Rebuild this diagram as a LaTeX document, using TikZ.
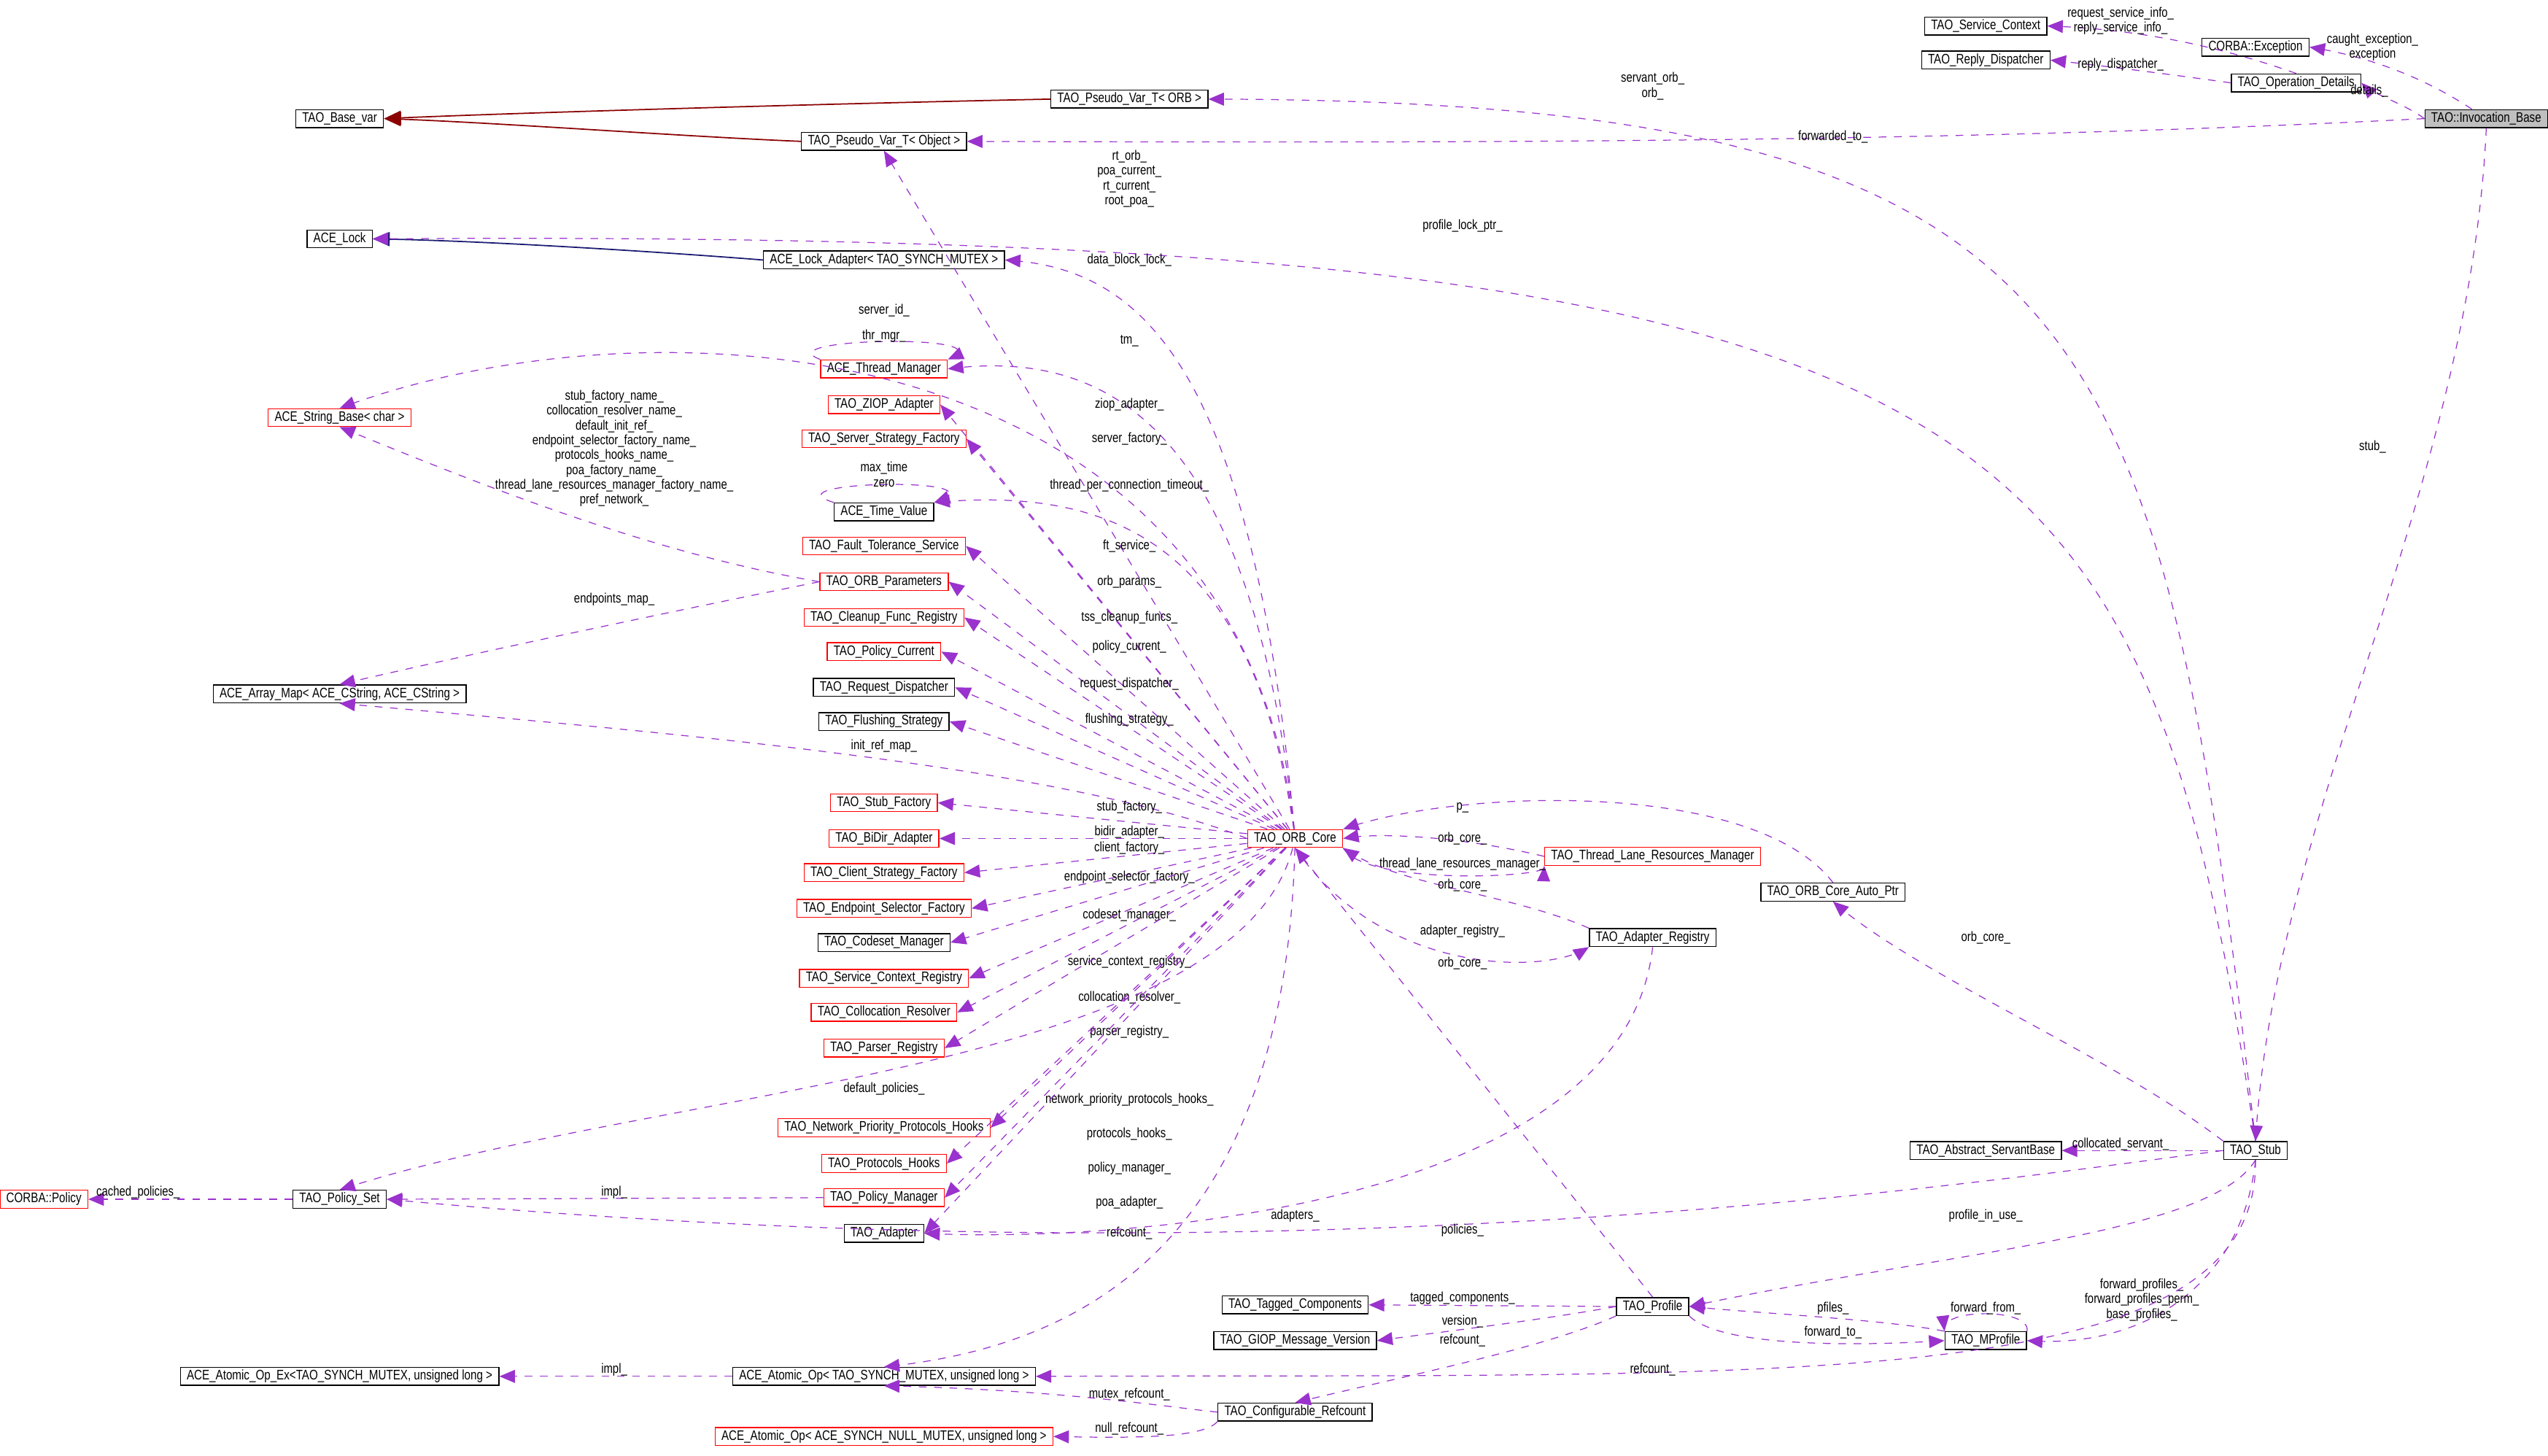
\documentclass[tikz,border=0pt]{standalone}
\usepackage{fontspec}
\setmainfont[FakeStretch=0.8]{Liberation Sans}
\usetikzlibrary{arrows}
\definecolor{memcol}{HTML}{9A32CD}
\definecolor{inhred}{HTML}{8B0000}
\definecolor{inhblue}{HTML}{191970}
\tikzset{
  cls/.style={draw=black, fill=white, line width=0.4pt, minimum height=0.245cm, inner xsep=2.5pt, inner ysep=0pt,
              font=\fontsize{5.4}{6}\selectfont},
  trunc/.style={cls, draw=red},
  self/.style={cls, fill=black!25},
  mem/.style={draw=memcol, dashed, line width=0.35pt, -triangle 45},
  pub/.style={draw=inhred, line width=0.5pt, -triangle 45},
  pubb/.style={draw=inhblue, line width=0.5pt, -triangle 45},
  lbl/.style={font=\fontsize{5.3}{5.8}\selectfont, align=center, inner sep=0pt}
}
\begin{document}
\begin{tikzpicture}[x=0.02228cm, y=-0.02228cm]
\useasboundingbox (0,0) rectangle (1568,896);

% classes, right top
\node[cls] (svcctx) at (1222,16) {TAO\_Service\_Context};
\node[cls] (replyd) at (1222,37) {TAO\_Reply\_Dispatcher};
\node[cls] (cexc) at (1388,29) {CORBA::Exception};
\node[cls] (opdet) at (1413,51) {TAO\_Operation\_Details};
\node[self] (invb) at (1530,73) {TAO::Invocation\_Base};
\node[cls] (pvorb) at (695,61) {TAO\_Pseudo\_Var\_T< ORB >};
\node[cls] (basevar) at (209,73) {TAO\_Base\_var};
\node[cls] (pvobj) at (544,87) {TAO\_Pseudo\_Var\_T< Object >};
\node[cls] (acelock) at (209,147) {ACE\_Lock};
\node[cls] (lockad) at (544,160) {ACE\_Lock\_Adapter< TAO\_SYNCH\_MUTEX >};

% left columns
\node[trunc] (strbase) at (209,257) {ACE\_String\_Base< char >};
\node[cls] (arrmap) at (209,427) {ACE\_Array\_Map< ACE\_CString, ACE\_CString >};
\node[trunc] (cpolicy) at (27,738) {CORBA::Policy};
\node[cls] (polset) at (209,738) {TAO\_Policy\_Set};
\node[cls] (atomex) at (209,847) {ACE\_Atomic\_Op\_Ex<TAO\_SYNCH\_MUTEX, unsigned long >};

\node[trunc] (thrmgr) at (544,227) {ACE\_Thread\_Manager};
\node[trunc] (ziop) at (544,249) {TAO\_ZIOP\_Adapter};
\node[trunc] (srvfac) at (544,270) {TAO\_Server\_Strategy\_Factory};
\node[cls] (timeval) at (544,315) {ACE\_Time\_Value};
\node[trunc] (ftsvc) at (544,336) {TAO\_Fault\_Tolerance\_Service};
\node[trunc] (orbpar) at (544,358) {TAO\_ORB\_Parameters};
\node[trunc] (cleanup) at (544,380) {TAO\_Cleanup\_Func\_Registry};
\node[trunc] (polcur) at (544,401) {TAO\_Policy\_Current};
\node[cls] (reqdisp) at (544,423) {TAO\_Request\_Dispatcher};
\node[cls] (flush) at (544,444) {TAO\_Flushing\_Strategy};
\node[trunc] (stubfac) at (544,494) {TAO\_Stub\_Factory};
\node[trunc] (bidir) at (544,516) {TAO\_BiDir\_Adapter};
\node[trunc] (clifac) at (544,537) {TAO\_Client\_Strategy\_Factory};
\node[trunc] (epsel) at (544,559) {TAO\_Endpoint\_Selector\_Factory};
\node[cls] (codeset) at (544,580) {TAO\_Codeset\_Manager};
\node[trunc] (screg) at (544,602) {TAO\_Service\_Context\_Registry};
\node[trunc] (colres) at (544,623) {TAO\_Collocation\_Resolver};
\node[trunc] (parser) at (544,645) {TAO\_Parser\_Registry};
\node[trunc] (netprio) at (544,694) {TAO\_Network\_Priority\_Protocols\_Hooks};
\node[trunc] (prothk) at (544,716) {TAO\_Protocols\_Hooks};
\node[trunc] (polmgr) at (544,737) {TAO\_Policy\_Manager};
\node[cls] (adapter) at (544,759) {TAO\_Adapter};
\node[cls] (atom) at (544,847) {ACE\_Atomic\_Op< TAO\_SYNCH\_MUTEX, unsigned long >};
\node[trunc] (atomnull) at (544,884) {ACE\_Atomic\_Op< ACE\_SYNCH\_NULL\_MUTEX, unsigned long >};

% middle and right
\node[trunc] (core) at (797,516) {TAO\_ORB\_Core};
\node[trunc] (tlrm) at (1017,527) {TAO\_Thread\_Lane\_Resources\_Manager};
\node[cls] (autoptr) at (1128,549) {TAO\_ORB\_Core\_Auto\_Ptr};
\node[cls] (adreg) at (1017,577) {TAO\_Adapter\_Registry};
\node[cls] (servb) at (1222,708) {TAO\_Abstract\_ServantBase};
\node[cls] (stub) at (1388,708) {TAO\_Stub};
\node[cls] (tagged) at (797,803) {TAO\_Tagged\_Components};
\node[cls] (giop) at (797,825) {TAO\_GIOP\_Message\_Version};
\node[cls] (profile) at (1017,804) {TAO\_Profile};
\node[cls] (mprof) at (1222,825) {TAO\_MProfile};
\node[cls] (cfgref) at (797,869) {TAO\_Configurable\_Refcount};

% inheritance
\draw[pub] (pvorb.west) .. controls (500,64) and (300,70) .. (basevar.east);
\draw[pub] (pvobj.west) .. controls (420,84) and (300,75) .. (basevar.east);
\draw[pubb] (lockad.west) .. controls (420,156) and (300,148) .. (acelock.east);

% invocation base
\draw[mem] (invb) .. controls (1480,40) and (1440,32) .. (cexc.east);
\node[lbl] at (1460,29) {caught\_exception\_\\exception};
\draw[mem] (invb.west) .. controls (1480,64) and (1460,58) .. (opdet.east);
\node[lbl] at (1458,56) {details\_};
\draw[mem] (invb.west) .. controls (1200,88) and (900,88) .. (pvobj.east);
\node[lbl] at (1128,84) {forwarded\_to\_};
\draw[mem] (invb.south) .. controls (1520,300) and (1400,500) .. (stub.north);
\node[lbl] at (1460,275) {stub\_};
\draw[mem] (opdet.north) .. controls (1370,30) and (1320,18) .. (svcctx.east);
\node[lbl] at (1305,13) {request\_service\_info\_\\reply\_service\_info\_};
\draw[mem] (opdet.west) .. controls (1330,45) and (1290,40) .. (replyd.east);
\node[lbl] at (1305,40) {reply\_dispatcher\_};

% stub
\draw[mem] (stub.north) .. controls (1330,200) and (1300,62) .. (pvorb.east);
\node[lbl] at (1017,53) {servant\_orb\_\\orb\_};
\draw[mem] (stub.north) .. controls (1320,250) and (1250,140) .. (acelock.east);
\node[lbl] at (900,139) {profile\_lock\_ptr\_};
\draw[mem] (stub.north west) .. controls (1300,650) and (1180,600) .. (autoptr.south);
\node[lbl] at (1222,577) {orb\_core\_};
\draw[mem] (stub.west) -- (servb.east);
\node[lbl] at (1305,704) {collocated\_servant\_};
\draw[mem] (stub.west) .. controls (1200,730) and (800,790) .. (polset.east);
\node[lbl] at (900,757) {policies\_};
\draw[mem] (stub.south) .. controls (1360,760) and (1200,770) .. (profile.east);
\node[lbl] at (1222,748) {profile\_in\_use\_};
\draw[mem] (stub.south) .. controls (1380,790) and (1320,830) .. (mprof.east);
\node[lbl] at (1318,800) {forward\_profiles\_\\forward\_profiles\_perm\_\\base\_profiles\_};
\draw[mem] (stub.south) .. controls (1390,860) and (1100,845) .. (atom.east);
\node[lbl] at (1017,843) {refcount\_};

% orb core members
\draw[mem] (core) -- (pvobj.south);
\node[lbl] at (695,110) {rt\_orb\_\\poa\_current\_\\rt\_current\_\\root\_poa\_};
\draw[mem] (core) .. controls (770,220) and (700,165) .. (lockad.east);
\node[lbl] at (695,160) {data\_block\_lock\_};
\draw[mem] (core) .. controls (760,200) and (400,180) .. (strbase.north);
\node[lbl] at (544,191) {server\_id\_};
\draw[mem] (core) .. controls (770,260) and (680,215) .. (thrmgr.east);
\node[lbl] at (695,210) {tm\_};
\draw[mem] (thrmgr.north west) .. controls (470,208) and (620,205) .. (thrmgr.north east);
\node[lbl] at (544,207) {thr\_mgr\_};
\draw[mem] (core) -- (ziop.east);
\node[lbl] at (695,249) {ziop\_adapter\_};
\draw[mem] (core) -- (srvfac.east);
\node[lbl] at (695,270) {server\_factory\_};
\draw[mem] (core) .. controls (770,330) and (680,300) .. (timeval.north east);
\node[lbl] at (695,299) {thread\_per\_connection\_timeout\_};
\draw[mem] (timeval.north west) .. controls (470,296) and (620,293) .. (timeval.north east);
\node[lbl] at (544,292) {max\_time\\zero};
\draw[mem] (core) -- (ftsvc.east);
\node[lbl] at (695,336) {ft\_service\_};
\draw[mem] (core) -- (orbpar.east);
\node[lbl] at (695,358) {orb\_params\_};
\draw[mem] (core) -- (cleanup.east);
\node[lbl] at (695,380) {tss\_cleanup\_funcs\_};
\draw[mem] (core) -- (polcur.east);
\node[lbl] at (695,398) {policy\_current\_};
\draw[mem] (core) -- (reqdisp.east);
\node[lbl] at (695,421) {request\_dispatcher\_};
\draw[mem] (core) -- (flush.east);
\node[lbl] at (695,443) {flushing\_strategy\_};
\draw[mem] (core.west) .. controls (650,470) and (400,450) .. (arrmap.south);
\node[lbl] at (544,459) {init\_ref\_map\_};
\draw[mem] (core) -- (stubfac.east);
\node[lbl] at (695,497) {stub\_factory\_};
\draw[mem] (core) -- (bidir.east);
\node[lbl] at (695,512) {bidir\_adapter\_};
\draw[mem] (core) -- (clifac.east);
\node[lbl] at (695,522) {client\_factory\_};
\draw[mem] (core) -- (epsel.east);
\node[lbl] at (695,540) {endpoint\_selector\_factory\_};
\draw[mem] (core) -- (codeset.east);
\node[lbl] at (695,563) {codeset\_manager\_};
\draw[mem] (core) -- (screg.east);
\node[lbl] at (695,592) {service\_context\_registry\_};
\draw[mem] (core) -- (colres.east);
\node[lbl] at (695,614) {collocation\_resolver\_};
\draw[mem] (core) -- (parser.east);
\node[lbl] at (695,635) {parser\_registry\_};
\draw[mem] (core) .. controls (760,660) and (400,670) .. (polset.north);
\node[lbl] at (544,670) {default\_policies\_};
\draw[mem] (core) -- (netprio.east);
\node[lbl] at (695,677) {network\_priority\_protocols\_hooks\_};
\draw[mem] (core) -- (prothk.east);
\node[lbl] at (695,698) {protocols\_hooks\_};
\draw[mem] (core) -- (polmgr.east);
\node[lbl] at (695,719) {policy\_manager\_};
\draw[mem] (core) -- (adapter.east);
\node[lbl] at (695,740) {poa\_adapter\_};
\draw[mem] (core) .. controls (790,780) and (650,830) .. (atom.north);
\node[lbl] at (695,759) {refcount\_};
\draw[mem] (core.south east) .. controls (840,545) and (950,540) .. (tlrm.south west);
\node[lbl] at (900,532) {thread\_lane\_resources\_manager\_};
\draw[mem] (tlrm.west) .. controls (900,515) and (850,512) .. (core.east);
\node[lbl] at (900,516) {orb\_core\_};
\draw[mem] (autoptr.north) .. controls (1080,480) and (900,485) .. (core.north east);
\node[lbl] at (900,497) {p\_};
\draw[mem] (adreg.north west) .. controls (930,550) and (860,545) .. (core.south east);
\node[lbl] at (900,545) {orb\_core\_};
\draw[mem] (core.south) .. controls (850,600) and (950,600) .. (adreg.south west);
\node[lbl] at (900,573) {adapter\_registry\_};
\draw[mem] (profile.north) -- (core.south);
\node[lbl] at (900,593) {orb\_core\_};
\draw[mem] (adreg.south) .. controls (1000,740) and (700,765) .. (adapter.east);
\node[lbl] at (797,748) {adapters\_};

% orb parameters
\draw[mem] (orbpar.west) .. controls (400,340) and (300,300) .. (strbase.south);
\node[lbl] at (378,276) {stub\_factory\_name\_\\collocation\_resolver\_name\_\\default\_init\_ref\_\\endpoint\_selector\_factory\_name\_\\protocols\_hooks\_name\_\\poa\_factory\_name\_\\thread\_lane\_resources\_manager\_factory\_name\_\\pref\_network\_};
\draw[mem] (orbpar.west) .. controls (420,375) and (300,400) .. (arrmap.north);
\node[lbl] at (378,369) {endpoints\_map\_};

% policies
\draw[mem] (polset.west) -- (cpolicy.east);
\node[lbl] at (85,734) {cached\_policies\_};
\draw[mem] (polmgr.west) -- (polset.east);
\node[lbl] at (378,734) {impl\_};

% profiles
\draw[mem] (profile.west) -- (tagged.east);
\node[lbl] at (900,799) {tagged\_components\_};
\draw[mem] (profile.west) .. controls (950,812) and (900,818) .. (giop.east);
\node[lbl] at (900,813) {version\_};
\draw[mem] (profile.south west) .. controls (950,830) and (850,850) .. (cfgref.north);
\node[lbl] at (900,825) {refcount\_};
\draw[mem] (profile.south east) .. controls (1060,830) and (1150,828) .. (mprof.west);
\node[lbl] at (1128,820) {forward\_to\_};
\draw[mem] (mprof.north west) .. controls (1160,812) and (1080,808) .. (profile.east);
\node[lbl] at (1128,805) {pfiles\_};
\draw[mem] (mprof.north east) .. controls (1250,805) and (1195,805) .. (mprof.north west);
\node[lbl] at (1222,805) {forward\_from\_};

% atomic ops
\draw[mem] (cfgref.west) .. controls (720,866) and (650,855) .. (atom.south);
\node[lbl] at (695,858) {mutex\_refcount\_};
\draw[mem] (cfgref.south west) .. controls (740,885) and (700,885) .. (atomnull.east);
\node[lbl] at (695,879) {null\_refcount\_};
\draw[mem] (atom.west) -- (atomex.east);
\node[lbl] at (378,843) {impl\_};
\end{tikzpicture}
\end{document}
